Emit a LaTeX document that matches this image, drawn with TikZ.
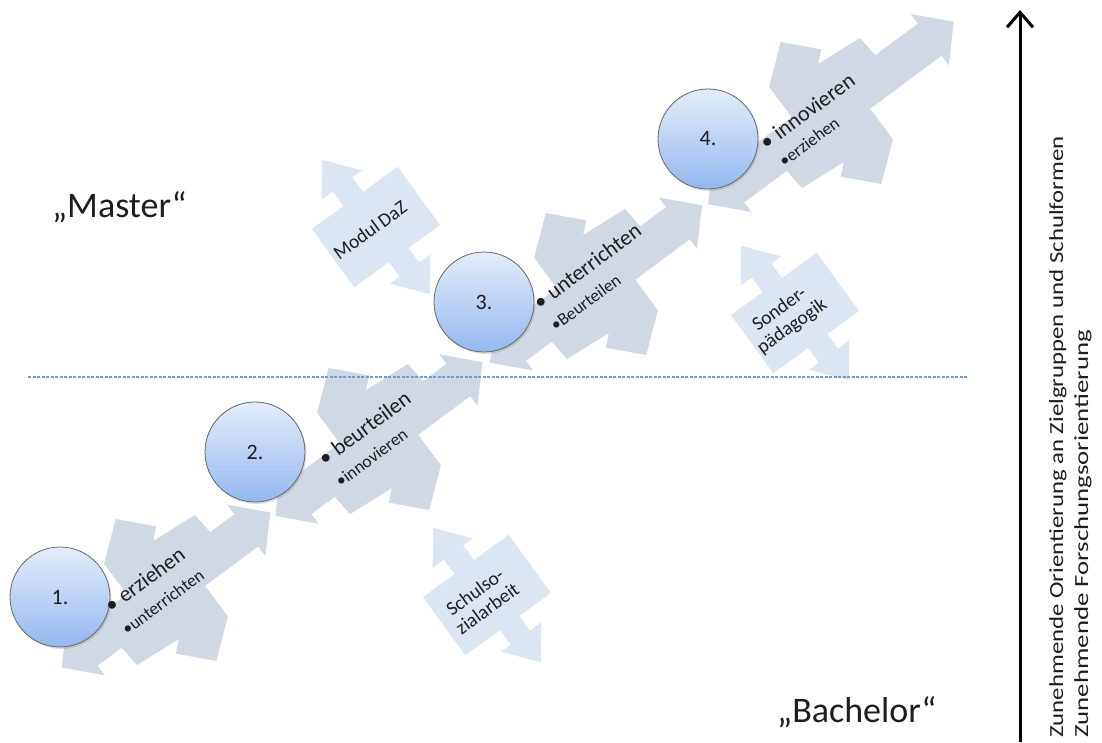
\documentclass[tikz,border=0pt]{standalone}
\usepackage{fontspec}
\setmainfont{Carlito}
\usetikzlibrary{arrows.meta,shadows}
\definecolor{segc}{HTML}{D0D8E4}
\definecolor{boxc}{HTML}{DCE6F2}
\definecolor{ctop}{HTML}{E4EDFB}
\definecolor{cbot}{HTML}{93B8EF}
\definecolor{dashc}{HTML}{6E9BD0}
\definecolor{txt}{HTML}{1E1E1E}
\newcommand\segpath[1]{(#1,0) -- (#1-30,32) -- (#1-30,20) -- (70,20) -- (68,43) -- (19,47) -- (30,57) -- (2,87) -- (-34,58) -- (-34,20) -- (-#1+30,20) -- (-#1+30,32) -- (-#1,0) -- (-#1+30,-32) -- (-#1+30,-20) -- (-70,-20) -- (-68,-43) -- (-19,-47) -- (-30,-57) -- (-2,-87) -- (34,-58) -- (34,-20) -- (#1-30,-20) -- (#1-30,-32) -- cycle}
\newcommand\boxpath{(-53,-36) -- (-53,36) -- (-14,36) -- (-14,54) -- (-28,54) -- (-4,86) -- (22,54) -- (10,54) -- (10,36) -- (53,36) -- (53,-36) -- (14,-36) -- (14,-54) -- (28,-54) -- (4,-86) -- (-22,-54) -- (-10,-54) -- (-10,-36) -- cycle}
\begin{document}
\begin{tikzpicture}[x=1pt,y=-1pt,
  stepcircle/.style={circle, minimum size=100pt, inner sep=0, draw=black!60, line width=0.8pt,
    top color=ctop, bottom color=cbot, text=txt, font=\fontsize{22}{24}\selectfont,
    drop shadow={shadow xshift=1.5pt, shadow yshift=-2pt, opacity=0.25}},
  biglbl/.style={rotate=36.6, anchor=base west, inner sep=0, text=txt, font=\fontsize{22}{24}\selectfont},
  smalllbl/.style={rotate=36.6, anchor=base west, inner sep=0, text=txt, font=\fontsize{17.5}{20}\selectfont},
  boxlbl/.style={rotate=36, align=center, inner sep=0, text=txt, font=\fontsize{19.5}{21}\selectfont},
  titlelbl/.style={anchor=base west, inner sep=0, text=txt, font=\fontsize{36}{40}\selectfont},
  sidelbl/.style={rotate=90, anchor=base west, inner sep=0, text=txt, font=\fontsize{20}{22}\selectfont}]
\useasboundingbox (0,0) rectangle (1102,742);

% main segments
\begin{scope}[shift={(166,590)}, rotate=36.6, x=1pt, y=1pt]
  \fill[segc] \segpath{130};
\end{scope}
\begin{scope}[shift={(379,439)}, rotate=36.6, x=1pt, y=1pt]
  \fill[segc] \segpath{129};
\end{scope}
\begin{scope}[shift={(596,284)}, rotate=36.6, x=1pt, y=1pt]
  \fill[segc] \segpath{132};
\end{scope}
\begin{scope}[shift={(831,113)}, rotate=36.6, x=1pt, y=1pt]
  \fill[segc] \segpath{153};
\end{scope}

% side boxes
\begin{scope}[shift={(376,227)}, rotate=36, x=1pt, y=1pt]
  \fill[boxc] \boxpath;
\end{scope}
\begin{scope}[shift={(795,313)}, rotate=36, x=1pt, y=1pt]
  \fill[boxc] \boxpath;
\end{scope}
\begin{scope}[shift={(487,595)}, rotate=36, x=1pt, y=1pt]
  \fill[boxc] \boxpath;
\end{scope}
\node[boxlbl] (bm) at (370,230) {Modul\,DaZ};
\node[boxlbl] (bs) at (786,318) {Sonder-\\pädagogik};
\node[boxlbl] (bz) at (481,600) {Schulso-\\zialarbeit};

% dashed separator
\coordinate (dl) at (28,377);
\coordinate (dr) at (968,377);
\draw[dashc, line width=1.3pt, dash pattern=on 3pt off 1.5pt] (dl) -- (dr);

% circles
\node[stepcircle] (c1) at (60,597) {1.};
\node[stepcircle] (c2) at (255,452) {2.};
\node[stepcircle] (c3) at (484,302) {3.};
\node[stepcircle] (c4) at (708,139) {4.};

% segment labels
\node[biglbl] (l1a) at (111.2,613.8) {\textbullet\hspace{0.25em}erziehen};
\node[smalllbl] (l1b) at (127.1,635.9) {\textbullet unterrichten};
\node[biglbl] (l2a) at (324.9,466.8) {\textbullet\hspace{0.25em}beurteilen};
\node[smalllbl] (l2b) at (340.8,487.7) {\textbullet innovieren};
\node[biglbl] (l3a) at (539.9,310.5) {\textbullet\hspace{0.25em}unterrichten};
\node[smalllbl] (l3b) at (555.8,332.1) {\textbullet Beurteilen};
\node[biglbl] (l4a) at (766.5,150.5) {\textbullet\hspace{0.25em}innovieren};
\node[smalllbl] (l4b) at (784.1,167.7) {\textbullet erziehen};

% titles
\node[titlelbl] (master) at (52,217) {„Master“};
\node[titlelbl] (bachelor) at (777,722) {„Bachelor“};

% vertical arrow
\coordinate (ab) at (1020,742);
\coordinate (at) at (1020,10);
\draw[line width=3pt, -{Straight Barb[length=15pt,width=26pt,line width=3pt]}] (ab) -- (at);

% side texts
\node[sidelbl] (s1) at (1063,738) {\scalebox{1.24}[1]{Zunehmende Orientierung an Zielgruppen und Schulformen}};
\node[sidelbl] (s2) at (1088,738) {\scalebox{1.34}[1]{Zunehmende Forschungsorientierung}};
\end{tikzpicture}
\end{document}
